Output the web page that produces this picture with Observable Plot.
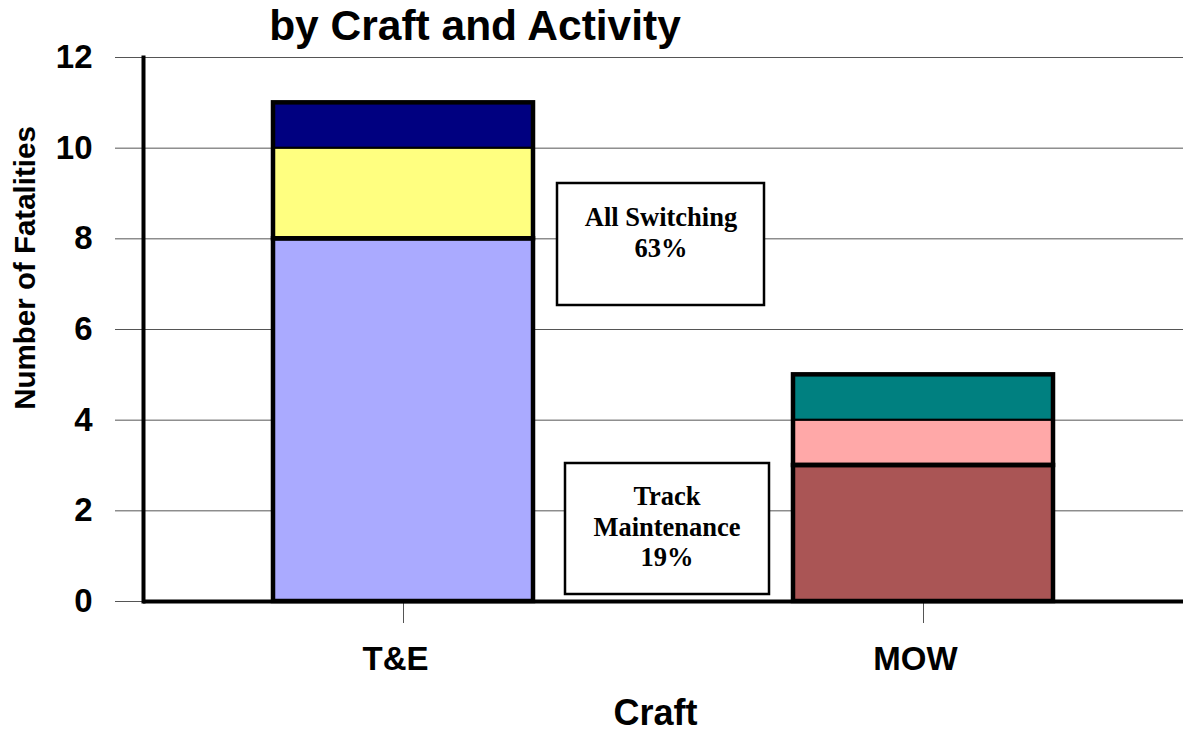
<!DOCTYPE html>
<html>
<head>
<meta charset="utf-8">
<script src="https://cdn.jsdelivr.net/npm/d3@7"></script>
<script src="https://cdn.jsdelivr.net/npm/@observablehq/plot@0.6"></script>
<style>
  html, body { margin: 0; padding: 0; background: white; }
  #wrap { position: relative; width: 1188px; height: 734px; overflow: hidden; }
  #wrap > svg { position: absolute; left: 0; top: 0; }
</style>
</head>
<body>
<div id="wrap"></div>
<script>
// ---- Data ----
const crafts = ["T&E", "T&E", "T&E", "MOW", "MOW", "MOW"];
const segments = ["T&E segment 1", "T&E segment 2", "T&E segment 3", "MOW segment 1", "MOW segment 2", "MOW segment 3"];
const fatalities = [8, 2, 1, 3, 1, 1];
const outlineGroups = ["lower", "upper", "upper", "lower", "upper", "upper"];
const segmentColors = ["#AAAAFF", "#FFFF80", "#000080", "#AA5555", "#FFA8A8", "#008080"];
const craftOrder = ["T&E", "MOW"];
const yTicks = [0, 2, 4, 6, 8, 10, 12];
const titleText = "by Craft and Activity";
const yLabel = "Number of Fatalities";
const xLabel = "Craft";
const notes = [
  {lines: ["All Switching", "63%"]},
  {lines: ["Track", "Maintenance", "19%"]}
];

const data = crafts.map((c, i) => ({
  craft: c, segment: segments[i], value: fatalities[i],
  group: outlineGroups[i], color: segmentColors[i]
}));

const chart = Plot.plot({
  width: 1188,
  height: 734,
  marginLeft: 143,
  marginRight: 5,
  marginTop: 57,
  marginBottom: 133,
  style: {fontFamily: "'Liberation Sans', Arial, sans-serif", fontWeight: "bold", background: "white", color: "black"},
  x: {domain: craftOrder, paddingInner: 0.5, paddingOuter: 0.25, label: null},
  y: {domain: [0, 12], label: null},
  color: {type: "identity"},
  marks: [
    Plot.gridY(yTicks, {stroke: "#555", strokeOpacity: 1, strokeWidth: 1}),
    Plot.axisY(yTicks, {tickSize: 28, tickPadding: 23, fontSize: 33, stroke: "#555", strokeOpacity: 1, label: null}),
    Plot.axisX({tickSize: 22, tickPadding: 23, fontSize: 33, stroke: "#555", strokeOpacity: 1, label: null, textStroke: "none"}),
    Plot.barY(data, {x: "craft", y: "value", fill: "color", stroke: "black", strokeWidth: 2}),
    Plot.barY(data, Plot.groupX({y: "sum"}, {x: "craft", y: "value", z: "group", fill: "none", stroke: "black", strokeWidth: 4.5})),
    Plot.ruleY([0], {stroke: "black", strokeWidth: 4}),
    Plot.frame({anchor: "left", stroke: "black", strokeWidth: 4})
  ]
});

const wrap = document.getElementById("wrap");
wrap.appendChild(chart);

// shift category labels slightly left, as in the reference
d3.select(chart).selectAll("g[aria-label='x-axis tick label'] text").attr("dx", -8);

// Overlay for title, axis titles and annotation boxes
const ov = d3.select(wrap).append("svg")
  .attr("width", 1188).attr("height", 734)
  .style("font-family", "'Liberation Sans', Arial, sans-serif")
  .style("font-weight", "bold");

ov.append("text").attr("x", 475).attr("y", 40).attr("text-anchor", "middle")
  .attr("font-size", 42.5).text(titleText);

ov.append("text").attr("transform", "translate(35,268) rotate(-90)").attr("text-anchor", "middle")
  .attr("font-size", 29.5).text(yLabel);

ov.append("text").attr("x", 655.5).attr("y", 725).attr("text-anchor", "middle")
  .attr("font-size", 36).text(xLabel);

const boxes = [
  {x: 557, y: 183, w: 207, h: 122, cx: 661, y0: 226, note: notes[0]},
  {x: 565, y: 463, w: 204, h: 131, cx: 667, y0: 505, note: notes[1]}
];
boxes.forEach(b => {
  ov.append("rect").attr("x", b.x).attr("y", b.y).attr("width", b.w).attr("height", b.h)
    .attr("fill", "white").attr("stroke", "black").attr("stroke-width", 2.5);
  b.note.lines.forEach((l, i) => {
    ov.append("text").attr("x", b.cx).attr("y", b.y0 + i * 30.5).attr("text-anchor", "middle")
      .attr("font-family", "'Liberation Serif', 'Times New Roman', serif")
      .attr("font-size", 26.5).attr("font-weight", "bold").text(l);
  });
});
</script>
</body>
</html>
